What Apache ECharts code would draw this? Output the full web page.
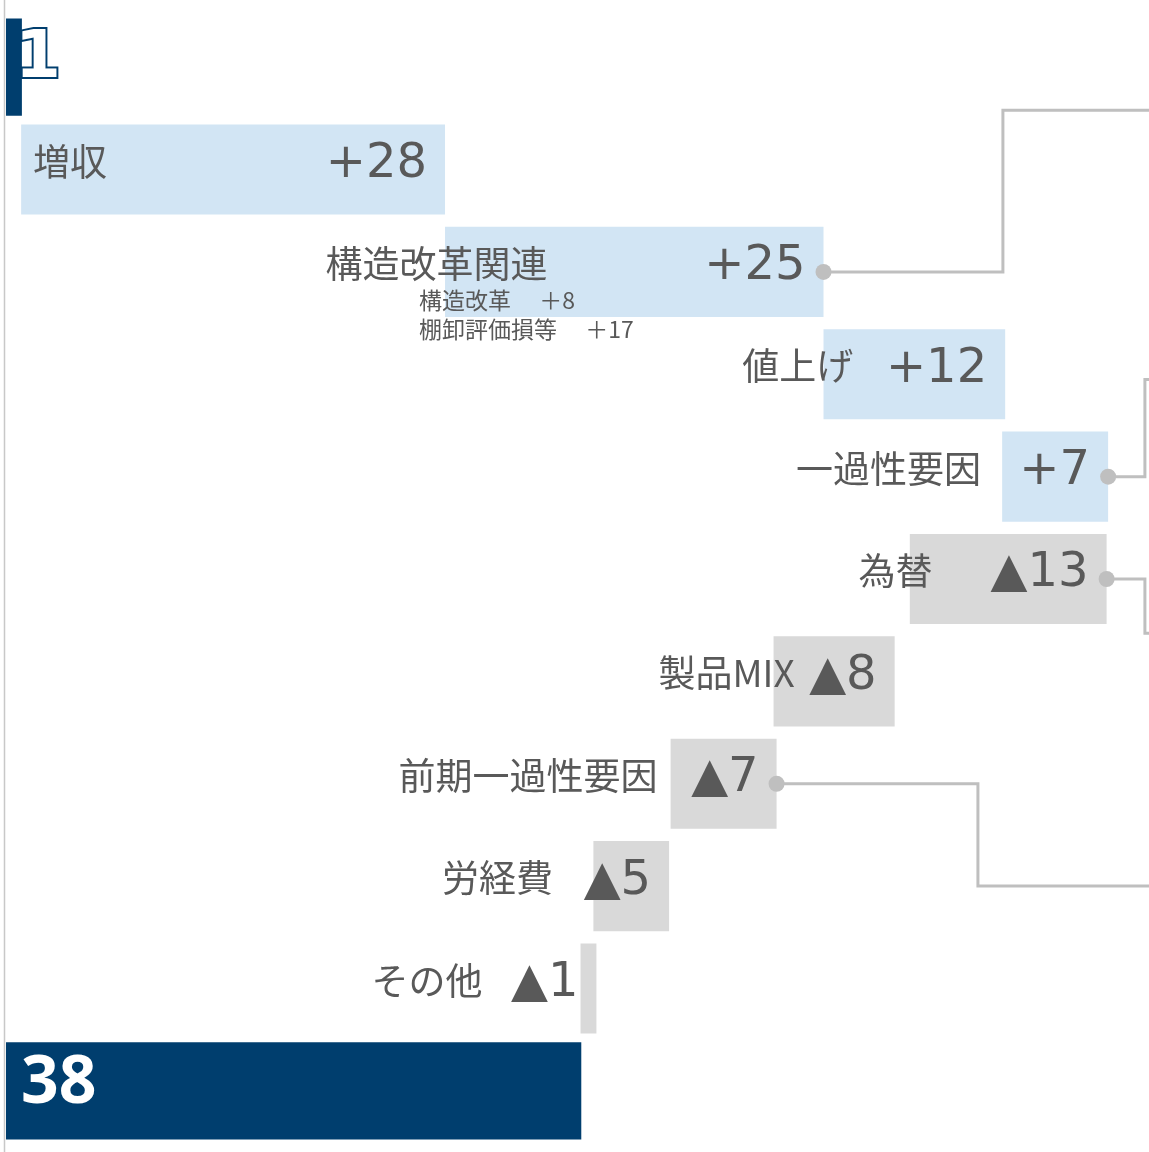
<!DOCTYPE html>
<html><head><meta charset="utf-8">
<script src="https://cdn.jsdelivr.net/npm/echarts@6/dist/echarts.min.js"></script>
<style>html,body{margin:0;padding:0;background:#fff}#c{width:1149px;height:1152px}</style>
</head><body><div id="c"></div>
<script>
// ---- data ----
const categories = ['', '増収', '構造改革関連', '値上げ', '一過性要因', '為替', '製品MIX', '前期一過性要因', '労経費', 'その他', ''];
const valueLabels = ['1', '+28', '+25', '+12', '+7', '▲13', '▲8', '▲7', '▲5', '▲1', '38'];
const barBase  = [0, 1, 29, 54, 65.8, 72.7, 58.7, 50.9, 43.8, 39.0, 0];
const barDelta = [1.05, 28, 25, 12, 7, -13, -8, -7, -5, -1.05, 38];
const barKind  = ['total', 'up', 'up', 'up', 'up', 'down', 'down', 'down', 'down', 'down', 'total'];
const subNames  = ['構造改革', '棚卸評価損等'];
const subValues = ['＋8', '＋17'];
const subRow = 2;
const connFromRow = [2, 4, 5, 7];
const connTurnX   = [65.85, 75.23, 75.23, 64.2];
const connToRow   = [0.42, 3.05, 5.53, 8];

// ---- layout / style ----
const X_MAX = 75.5;
const NAVY = '#003e6e', LIGHT = '#d2e5f4', GRAY = '#d9d9d9', TXT = '#595959', LINE = '#bfbfbf';
const nameInset = [0, 338, 276, 152, 127, 174, 100, 119, 116, 114, 0];

const chart = echarts.init(document.getElementById('c'), null, {renderer: 'canvas'});

function renderBar(params, api) {
  const i = api.value(0), a = api.value(1), b = api.value(2);
  const p1 = api.coord([Math.min(a, b), i]);
  const p2 = api.coord([Math.max(a, b), i]);
  const band = api.size([0, 1])[1];
  const kind = barKind[i];
  const h = band * (kind === 'total' ? 0.95 : 0.88);
  const cy = p1[1];
  const fill = kind === 'up' ? LIGHT : (kind === 'down' ? GRAY : NAVY);
  const children = [{type: 'rect', shape: {x: p1[0], y: cy - h / 2, width: p2[0] - p1[0], height: h}, style: {fill: fill}}];
  if (kind === 'total') {
    const first = i === 0;
    children.push({type: 'text', z2: 10, style: {
      text: valueLabels[i], x: p1[0] + (first ? 9 : 15), y: cy - 7,
      align: 'left', verticalAlign: 'middle', fill: '#fff',
      font: first ? "bold 66px 'DejaVu Sans'" : "bold 66px 'Noto Sans'",
      stroke: first ? NAVY : null, lineWidth: first ? 4 : 0
    }});
  } else {
    children.push({type: 'text', z2: 10, style: {
      text: valueLabels[i], x: p2[0] - 18, y: cy - 5, align: 'right', verticalAlign: 'middle',
      fill: TXT, font: "48px 'DejaVu Sans'"
    }});
    children.push({type: 'text', z2: 10, style: {
      text: categories[i], x: p2[0] - nameInset[i], y: cy - 8, align: 'right', verticalAlign: 'middle',
      fill: TXT, font: "37px 'Noto Sans CJK JP'"
    }});
  }
  if (i === subRow) {
    subNames.forEach(function (n, k) {
      children.push({type: 'text', z2: 10, style: {
        text: n + '\u3000 ' + subValues[k], x: p1[0] - 26, y: cy + 28 + k * 29,
        align: 'left', verticalAlign: 'middle', fill: TXT, font: "23px 'Noto Sans CJK JP'"
      }});
    });
  }
  return {type: 'group', children: children};
}

function renderConn(params, api) {
  const k = api.value(0);
  const r = connFromRow[k];
  const x0 = Math.max(barBase[r], barBase[r] + barDelta[r]);
  const pts = [[x0, r], [connTurnX[k], r], [connTurnX[k], connToRow[k]], [X_MAX, connToRow[k]]].map(function (p) { return api.coord(p); });
  return {type: 'group', children: [
    {type: 'polyline', shape: {points: pts}, style: {stroke: LINE, lineWidth: 3, fill: null}},
    {type: 'circle', shape: {cx: pts[0][0], cy: pts[0][1], r: 8}, style: {fill: LINE}}
  ]};
}

chart.setOption({
  animation: false,
  backgroundColor: '#fff',
  grid: {left: 6, right: 0, top: 16, bottom: 10},
  xAxis: {type: 'value', min: 0, max: X_MAX, show: false},
  yAxis: {type: 'value', min: -0.5, max: 10.5, inverse: true, show: false},
  graphic: [{type: 'line', shape: {x1: 4.5, y1: 0, x2: 4.5, y2: 1152}, style: {stroke: '#c8c8c8', lineWidth: 1.5}}],
  series: [
    {type: 'custom', renderItem: renderBar, clip: false,
     encode: {x: [1, 2], y: 0},
     data: categories.map(function (c, i) { return [i, barBase[i], barBase[i] + barDelta[i]]; })},
    {type: 'custom', renderItem: renderConn, clip: false,
     encode: {x: 1, y: 2},
     data: connFromRow.map(function (r, k) { return [k, connTurnX[k], connToRow[k]]; })}
  ]
});
</script>
</body></html>
